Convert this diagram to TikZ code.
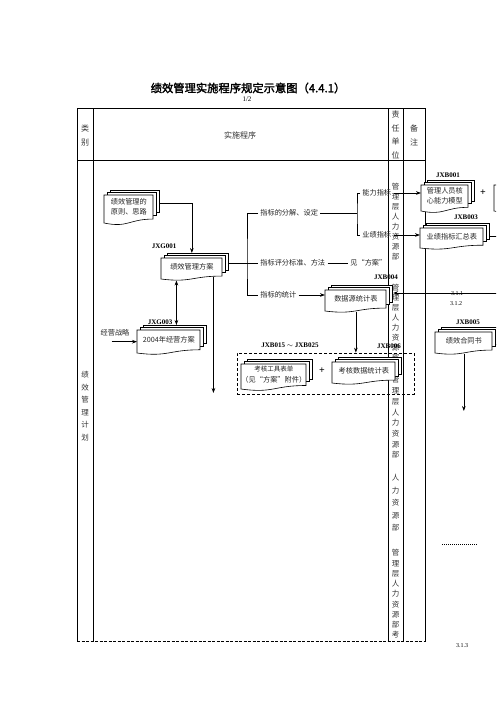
\documentclass[tikz,border=0pt]{standalone}
\usepackage{fontspec}
\setmainfont{Liberation Serif}
\newfontfamily\cjk{Noto Sans CJK SC}
\newfontfamily\cjkbf[FakeBold=2]{Noto Sans CJK SC}
\usetikzlibrary{arrows.meta}
\usetikzlibrary{calc}
\usetikzlibrary{positioning}

\tikzset{
  doctext/.style={inner sep=0pt,align=center,text=black!85,font=\cjk\fontsize{7.2}{10.5}\selectfont},
  docline/.style={draw=black,fill=white,line width=0.6pt},
  wenzi/.style={inner sep=2pt,text=black!85,font=\cjk\fontsize{7.2}{9}\selectfont},
  shu/.style={inner sep=0pt,align=center,text=black!80,font=\cjk\fontsize{7.5}{#1}\selectfont},
  biaohao/.style={inner sep=0pt,font=\bfseries\fontsize{7}{8}\selectfont},
  xiaohao/.style={inner sep=0pt,font=\fontsize{6}{7}\selectfont},
  jiahao/.style={inner sep=0pt,font=\bfseries\fontsize{10}{10}\selectfont}
}

% document symbol: name, left x, top y, width, height, text
\newcommand\wendang[6]{%
  \foreach \k in {2,1}
    \filldraw[docline] ({#2+3.2*\k},{#3-2.5*\k}) rectangle ({#2+#4+3.2*\k},{#3+0.8*#5-2.5*\k});
  \filldraw[docline] (#2,#3) -- ({#2+#4},#3) -- ({#2+#4},{#3+0.86*#5})
    .. controls ({#2+0.5*#4},{#3+0.86*#5}) and ({#2+0.5*#4},{#3+1.18*#5}) .. (#2,{#3+#5}) -- cycle;
  \node[doctext,minimum width=#4,minimum height={0.8*#5},anchor=north west] (#1) at (#2,#3) {#6};
}

\begin{document}
\begin{tikzpicture}[x=1pt,y=-1pt,line width=0.7pt,>={Stealth[length=5pt,width=3.6pt]}]
    \useasboundingbox (0,0) rectangle (496,702);
    \clip (0,0) rectangle (496,702);
    \fill[white] (0,0) rectangle (496,702);

    % title
    \node[font=\cjkbf\fontsize{11.3}{13}\selectfont] (biaoti) at (248,88) {绩效管理实施程序规定示意图（4.4.1）};
    \node[font=\fontsize{7}{8}\selectfont] (yema) at (247,99) {1/2};

    % table
    \draw (77,641) -- (77,108) -- (425.5,108) -- (425.5,641);
    \draw (93,108) -- (93,641);
    \draw (388,108) -- (388,641);
    \draw (403,108) -- (403,641);
    \draw (77,160.5) -- (425.5,160.5);
    \draw[dash pattern=on 3pt off 1.5pt] (77,641) -- (425.5,641);

    \node[shu=14,font=\cjk\fontsize{8}{14}\selectfont] (leibie) at (85,135) {类\\别};
    \node[shu=14,font=\cjk\fontsize{8}{14}\selectfont] (shishi) at (240,135) {实施程序};
    \node[shu=13.4,font=\cjk\fontsize{8}{13.4}\selectfont] (zeren) at (395.5,135) {责\\任\\单\\位};
    \node[shu=14,font=\cjk\fontsize{8}{14}\selectfont] (beizhu) at (414,135) {备\\注};
    \node[shu=12.5,font=\cjk\fontsize{7.5}{12.5}\selectfont] (leixing) at (85,406) {绩\\效\\管\\理\\计\\划};

    % responsible units
    \node[shu=10] (danwei1) at (395.5,222) {管\\理\\层\\人\\力\\资\\源\\部};
    \node[shu=10] (danwei2) at (395.5,323) {管\\理\\层\\人\\力\\资\\源\\部};
    \node[shu=10.7] (danwei3) at (395.5,417.5) {管\\理\\层\\人\\力\\资\\源\\部};
    \node[shu=12.5] (danwei4) at (395.5,503) {人\\力\\资\\源\\部};
    \node[shu=10.25] (danwei5) at (395.5,594) {管\\理\\层\\人\\力\\资\\源\\部\\考};

    % documents
    \wendang{yuanze}{104}{195}{49}{28}{绩效管理的\\原则、思路}
    \wendang{fangan}{161}{258}{61}{21}{绩效管理方案}
    \wendang{jingying}{137}{330}{63}{23}{2004年经营方案}
    \wendang{hexin}{421}{185}{47}{26}{管理人员核\\心能力模型}
    \wendang{huizong}{420}{228}{63}{20}{业绩指标汇总表}
    \wendang{shujuyuan}{325}{290}{61}{21}{数据源统计表}
    \wendang{gongju}{241}{364}{65}{25}{\fontsize{6.5}{10}\selectfont 考核工具表单\\（见“方案”附件）}
    \wendang{tongji}{332}{362}{63}{21}{考核数据统计表}
    \wendang{hetong}{435}{332}{57}{21}{绩效合同书}
    \wendang{bufen}{494}{185}{45}{26}{}

    \node[jiahao] (jia1) at (483,193) {+};
    \node[jiahao] (jia2) at (322,371) {+};

    \node[draw,dash pattern=on 3pt off 2pt,minimum width=177,minimum height=41,inner sep=0pt] (kuang) at (325.5,373.5) {};

    % codes
    \node[biaohao] (jxg001) at (164,246) {JXG001};
    \node[biaohao] (jxg003) at (160,322) {JXG003};
    \node[biaohao] (jxb001) at (448,175) {JXB001};
    \node[biaohao] (jxb003) at (466,217) {JXB003};
    \node[biaohao] (jxb004) at (386,277) {JXB004};
    \node[biaohao] (jxb005) at (468,322) {JXB005};
    \node[biaohao] (jxb015) at (290,345.5) {JXB015 $\sim$ JXB025};
    \node[biaohao] (jxb006) at (389,346) {JXB006};

    \node[xiaohao] (hao1) at (457,294) {3.1.1};
    \node[xiaohao] (hao2) at (456,304) {3.1.2};
    \node[xiaohao] (hao3) at (462,646) {3.1.3};

    % steps
    \node[wenzi,anchor=west] (fenjie) at (258,213) {指标的分解、设定};
    \node[wenzi,anchor=west] (pingfen) at (258,263) {指标评分标准、方法};
    \node[wenzi,anchor=west] (jian) at (348,263) {见“方案”};
    \node[wenzi,anchor=west] (tongjitxt) at (258,295) {指标的统计};
    \node[wenzi,anchor=west] (nengli) at (360,193) {能力指标};
    \node[wenzi,anchor=west] (yeji) at (360,235) {业绩指标};
    \node[wenzi] (zhanlue) at (115,333) {经营战略};

    \coordinate (tk) at (247,263);
    \coordinate (br) at (357,213);
    \coordinate (youbian) at (500,0);
    \coordinate (youjian) at (500,293);
    \coordinate (dn1) at (0,393);
    \coordinate (dn2) at (0,411);
    \coordinate (zl) at ($(zhanlue.south)+(-3.5,3)$);
    \coordinate (sx) at ($(fangan.south west)!0.25!(fangan.south east)$);
    \coordinate (sy) at ($(fangan.south west)!0.85!(fangan.south east)$);

    % connectors
    \draw[->] ($(yuanze.east)+(6.4,-3)$) -| ($(fangan.north)+(0,-5)$);
    \draw ($(pingfen.west -| fangan.east)+(6.4,0)$) -- (pingfen.west);
    \draw (fenjie.west) -| (tk) |- (tongjitxt.west);
    \draw (fenjie.east) -- (fenjie.east -| br);
    \draw (nengli.west) -| (br) |- (yeji.west);
    \draw[->] (nengli.east) -- (nengli.east -| hexin.west);
    \draw[->] (yeji.east) -- (yeji.east -| huizong.west);
    \draw ($(huizong.east)+(6.4,0)$) -- (huizong.east -| youbian);
    \draw (pingfen.east) -- (jian.west);
    \draw[->] (tongjitxt.east) -- (tongjitxt.east -| shujuyuan.west);
    \draw[->] (youjian) -- ($(youjian -| shujuyuan.east)+(6.4,0)$);
    \draw[->] ($(shujuyuan.south)+(0,4)$) -- (shujuyuan.south |- kuang.north);
    \draw[<->] ($(sx)+(0,5)$) -- ($(sx |- jingying.north)+(0,-5)$);
    \draw[->] ($(sy)+(0,1.5)$) -- (sy |- dn1);
    \draw[->] (zl) -- (zl -| jingying.west);
    \draw[->] ($(hetong.south)+(0,4)$) -- (hetong.south |- dn2);
    \draw[dash pattern=on 1pt off 1pt] (442,544) -- (477,544);
\end{tikzpicture}
\end{document}
